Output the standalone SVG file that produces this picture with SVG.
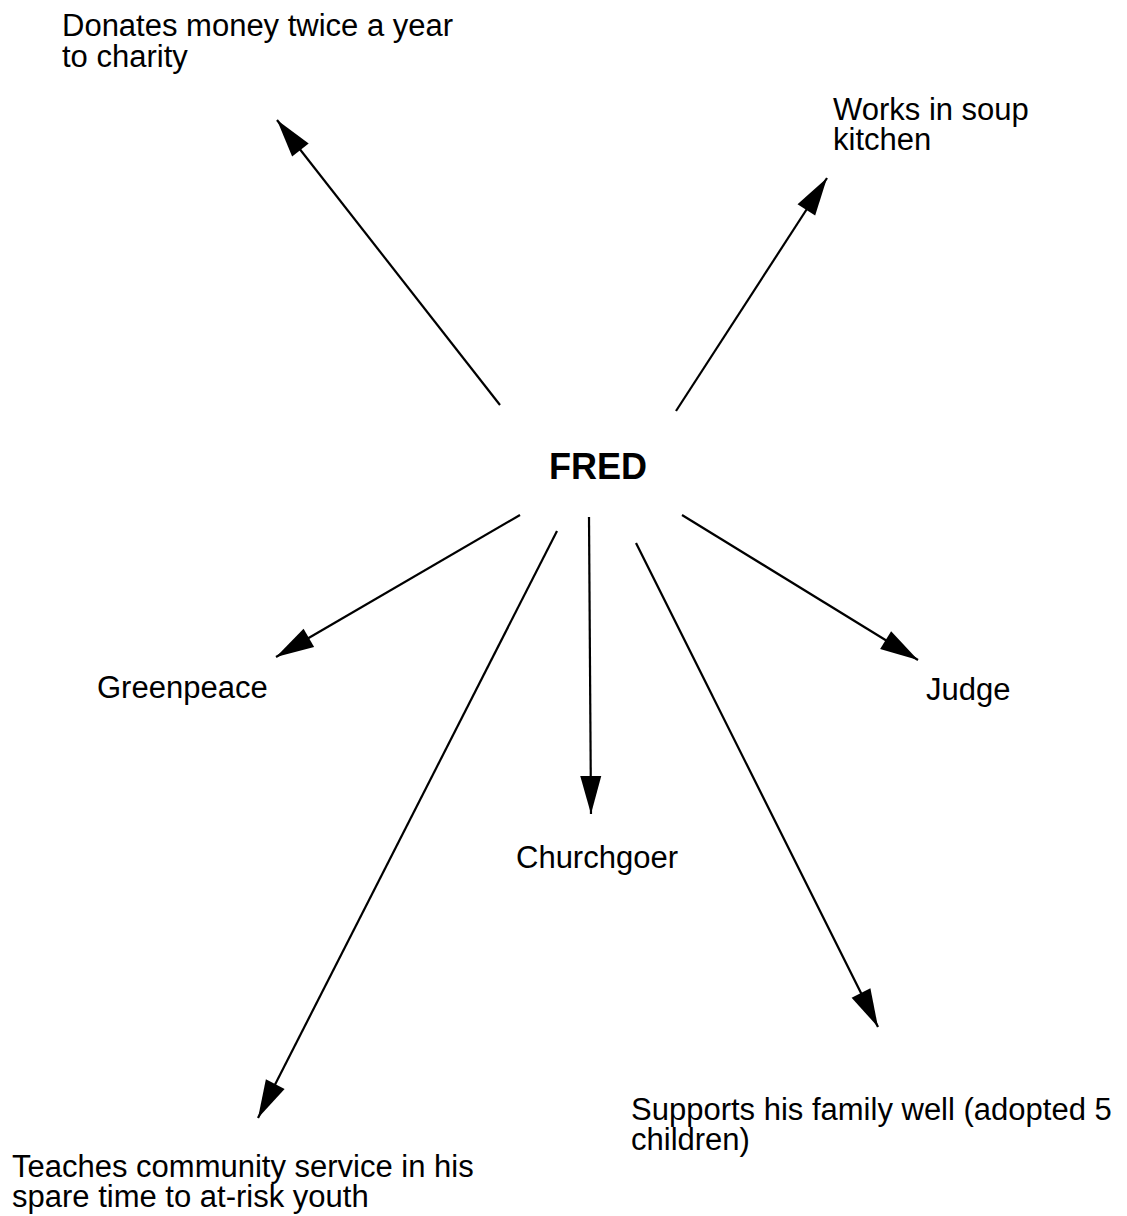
<svg xmlns="http://www.w3.org/2000/svg" width="1127" height="1216" viewBox="0 0 1127 1216">
<style>
  .lbl { font-family: "Liberation Sans", Arial, sans-serif; font-size: 31px; fill: #000; }
  .main { font-family: "Liberation Sans", Arial, sans-serif; font-size: 36px; font-weight: bold; fill: #000; }
  .conn { stroke: #000; stroke-width: 2.2; fill: none; marker-end: url(#arr); }
</style>
<defs>
  <marker id="arr" markerUnits="userSpaceOnUse" viewBox="-40 -12 42 24" refX="0" refY="0" markerWidth="42" markerHeight="24" orient="auto">
    <path d="M-38,-10.5 L0,0 L-38,10.5 z" fill="#000"/>
  </marker>
</defs>
<rect width="1127" height="1216" fill="#fff"/>
<g id="connectors">
  <line class="conn" x1="500" y1="405" x2="277" y2="120"/>
  <line class="conn" x1="676" y1="411" x2="827" y2="178"/>
  <line class="conn" x1="520" y1="515" x2="276" y2="657"/>
  <line class="conn" x1="682" y1="515" x2="918" y2="660"/>
  <line class="conn" x1="589" y1="517" x2="591" y2="814"/>
  <line class="conn" x1="557" y1="531" x2="258" y2="1118"/>
  <line class="conn" x1="636" y1="543" x2="878" y2="1027"/>
</g>
<g id="fred"><text class="main" x="549" y="479">FRED</text></g>
<g id="donates"><text class="lbl" x="62" y="36">Donates money twice a year</text><text class="lbl" x="62" y="67">to charity</text></g>
<g id="soup"><text class="lbl" x="833" y="120">Works in soup</text><text class="lbl" x="833" y="150">kitchen</text></g>
<g id="greenpeace"><text class="lbl" x="97" y="698">Greenpeace</text></g>
<g id="judge"><text class="lbl" x="926" y="700">Judge</text></g>
<g id="churchgoer"><text class="lbl" x="516" y="868">Churchgoer</text></g>
<g id="supports"><text class="lbl" x="631" y="1120">Supports his family well (adopted 5</text><text class="lbl" x="631" y="1150">children)</text></g>
<g id="teaches"><text class="lbl" x="12" y="1177">Teaches community service in his</text><text class="lbl" x="12" y="1207">spare time to at-risk youth</text></g>
</svg>
